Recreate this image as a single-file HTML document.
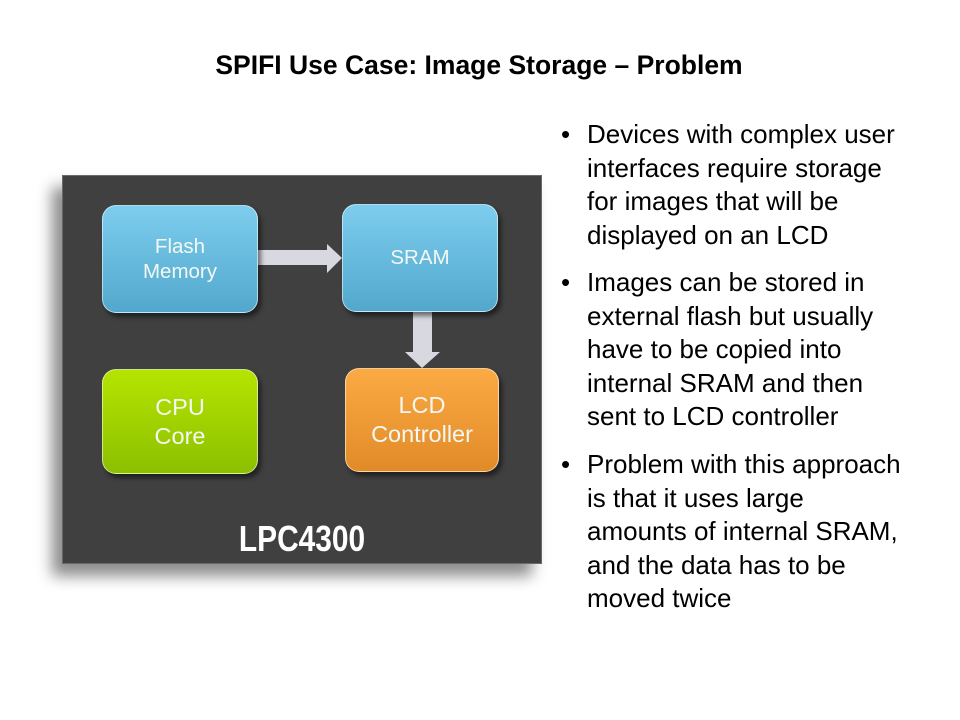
<!DOCTYPE html>
<html><head><meta charset="utf-8"><style>
body{margin:0;width:960px;height:720px;background:#fff;position:relative;overflow:hidden;font-family:"Liberation Sans",Arial,sans-serif}
.t{position:absolute;left:0;width:958px;top:50px;line-height:30px;text-align:center;font-weight:bold;font-size:26.5px;color:#000}
.chip{position:absolute;left:62px;top:175px;width:480px;height:389px;background:#404040;border:1px solid #6a6a6a;box-sizing:border-box;box-shadow:-10px 12px 14px rgba(0,0,0,0.45)}
.b{position:absolute;border-radius:14px;color:#f4f8f4;text-align:center;display:flex;align-items:center;justify-content:center;box-shadow:3px 4px 5px rgba(0,0,0,0.5);border:1px solid rgba(255,255,255,0.55);box-sizing:border-box}
.blue{background:linear-gradient(#7dcdee,#52a8cc)}
.green{background:linear-gradient(#b5e400,#8cc000)}
.orange{background:linear-gradient(#fbaa44,#e18b28)}
.lbl{position:absolute;left:62px;width:480px;top:518px;text-align:center;color:#fff;font-weight:bold;font-size:36px;transform:scaleX(0.83)}
.r{position:absolute;left:587px;font-size:26px;line-height:33.5px;color:#000;white-space:nowrap}
.d{position:absolute;left:561px;font-size:26px;line-height:33.5px}
</style></head><body>
<div class="t">SPIFI Use Case: Image Storage – Problem</div>
<div class="chip"></div>
<svg style="position:absolute;left:0;top:0" width="960" height="720">
<polygon points="258,250 327,250 327,244 342,258 327,273 327,265 258,265" fill="#d8d8e0"/>
<polygon points="413,312 432,312 432,352 440,352 422,368 405,352 413,352" fill="#d8d8e0"/>
</svg>
<div class="b blue" style="left:102px;top:205px;width:156px;height:108px;font-size:20.5px;line-height:25px">Flash<br>Memory</div>
<div class="b blue" style="left:342px;top:204px;width:156px;height:108px;font-size:20.5px">SRAM</div>
<div class="b green" style="left:102px;top:369px;width:156px;height:105px;font-size:23.5px;line-height:29px">CPU<br>Core</div>
<div class="b orange" style="left:345px;top:368px;width:154px;height:104px;font-size:23.5px;line-height:29px">LCD<br>Controller</div>
<div class="lbl">LPC4300</div>
<div class="d" style="top:118px">•</div>
<div class="r" style="top:118px">Devices with complex user<br>interfaces require storage<br>for images that will be<br>displayed on an LCD</div>
<div class="d" style="top:266px">•</div>
<div class="r" style="top:266px">Images can be stored in<br>external flash but usually<br>have to be copied into<br>internal SRAM and then<br>sent to LCD controller</div>
<div class="d" style="top:448px">•</div>
<div class="r" style="top:448px">Problem with this approach<br>is that it uses large<br>amounts of internal SRAM,<br>and the data has to be<br>moved twice</div>
</body></html>
